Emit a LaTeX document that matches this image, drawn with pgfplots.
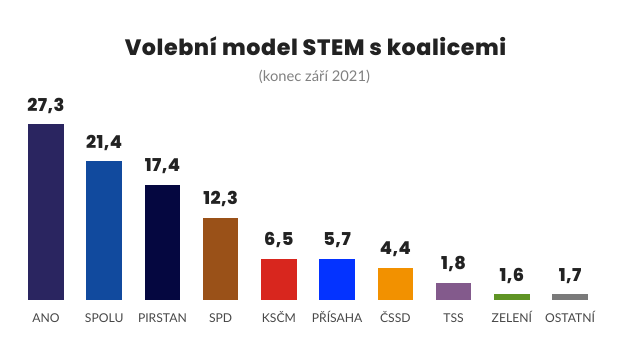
\documentclass[border=0pt]{standalone}
\usepackage{pgfplots}
\pgfplotsset{compat=1.18}
\usepackage{fontspec}
\setmainfont{Lato}
\newfontfamily\poppx{Poppins ExtraBold}[LetterSpace=2.5]
\definecolor{cANO}{HTML}{2A2560}
\definecolor{cSPOLU}{HTML}{114A9E}
\definecolor{cPIR}{HTML}{050740}
\definecolor{cSPD}{HTML}{9A5118}
\definecolor{cKSCM}{HTML}{D8261E}
\definecolor{cPRI}{HTML}{0433FF}
\definecolor{cCSSD}{HTML}{F29100}
\definecolor{cTSS}{HTML}{835A8C}
\definecolor{cZEL}{HTML}{5F9424}
\definecolor{cOST}{HTML}{7A7A7A}
\definecolor{txt}{HTML}{222222}
\begin{document}
\begin{tikzpicture}
\path[use as bounding box] (0,0) rectangle (630bp,354bp);
\begin{axis}[
  at={(16.8bp,54bp)}, anchor=south west,
  scale only axis, width=582.4bp, height=193.4bp,
  xmin=-0.5, xmax=9.5, ymin=0, ymax=30,
  clip=false,
  axis line style={draw=none}, tick style={draw=none},
  ytick=\empty,
  xtick={0,...,9},
  xticklabels={ANO,SPOLU,PIRSTAN,SPD,KSČM,PŘÍSAHA,ČSSD,TSS,ZELENÍ,OSTATNÍ},
  xticklabel style={anchor=base, inner sep=0pt, yshift=-18.5bp, font=\fontsize{12.2}{14}\selectfont, text=black!72},
  ybar, bar width=35.5bp, bar shift=0pt,
  every axis plot/.append style={draw=none},
  point meta=explicit symbolic,
  nodes near coords,
  every node near coord/.append style={anchor=base, inner sep=0pt, yshift=13bp, font=\poppx\fontsize{17.8}{20}\selectfont, text=txt},
]
\addplot[fill=cANO] coordinates {(0,27.3) [27,3]};
\addplot[fill=cSPOLU] coordinates {(1,21.56) [21,4]};
\addplot[fill=cPIR] coordinates {(2,17.84) [17,4]};
\addplot[fill=cSPD] coordinates {(3,12.72) [12,3]};
\addplot[fill=cKSCM] coordinates {(4,6.36) [6,5]};
\addplot[fill=cPRI] coordinates {(5,6.36) [5,7]};
\addplot[fill=cCSSD] coordinates {(6,5.0) [4,4]};
\addplot[fill=cTSS] coordinates {(7,2.64) [1,8]};
\addplot[fill=cZEL] coordinates {(8,0.93) [1,6]};
\addplot[fill=cOST] coordinates {(9,0.93) [1,7]};
\end{axis}
\node[anchor=base, inner sep=0pt, text=txt, font=\poppx\fontsize{22.3}{26}\selectfont] at (315.5bp,298bp) {Volební model STEM s koalicemi};
\node[anchor=base, inner sep=0pt, text=black!50, font=\fontsize{14.8}{17}\selectfont] at (314.5bp,272bp) {(konec září 2021)};
\end{tikzpicture}
\end{document}
